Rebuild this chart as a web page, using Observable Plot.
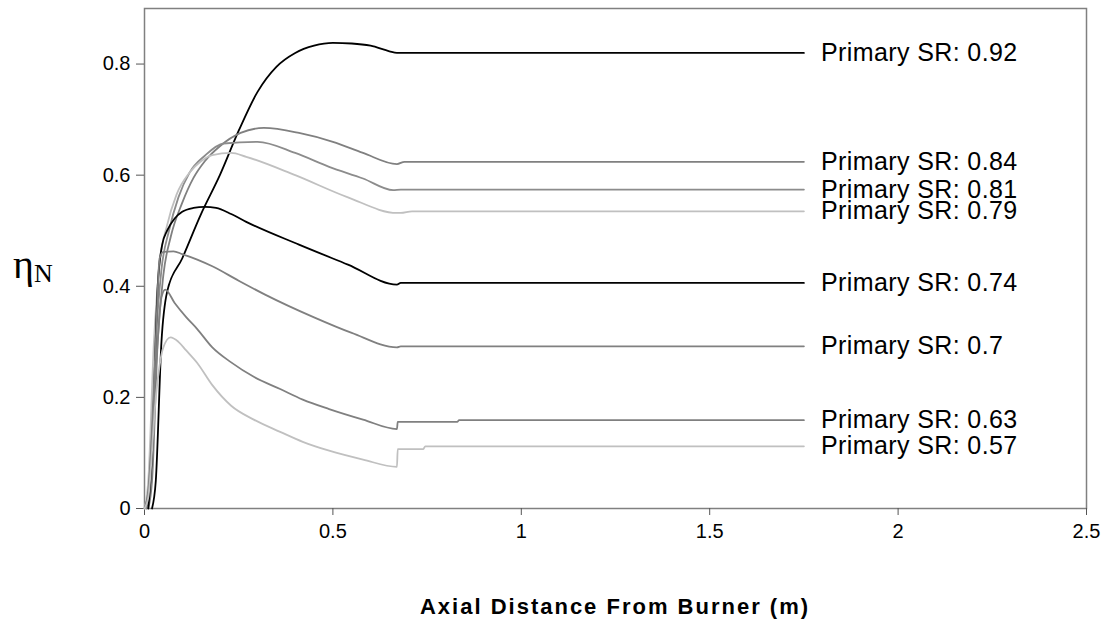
<!DOCTYPE html>
<html>
<head>
<meta charset="utf-8">
<script src="https://cdn.jsdelivr.net/npm/d3@7"></script>
<script src="https://cdn.jsdelivr.net/npm/@observablehq/plot@0.6"></script>
<style>
  html, body { margin: 0; padding: 0; background: #fff; }
  #chart { width: 1114px; height: 629px; }
</style>
</head>
<body>
<div id="chart"></div>
<script>
// ---- data ----
const xTicks = [0, 0.5, 1, 1.5, 2, 2.5];
const yTicks = [0, 0.2, 0.4, 0.6, 0.8];
const srLabels = ["Primary SR: 0.92", "Primary SR: 0.84", "Primary SR: 0.81", "Primary SR: 0.79",
                  "Primary SR: 0.74", "Primary SR: 0.7", "Primary SR: 0.63", "Primary SR: 0.57"];

const x092 = [0.02, 0.03, 0.045, 0.06, 0.1, 0.15, 0.2, 0.25, 0.3, 0.35, 0.4, 0.45, 0.5, 0.55, 0.6, 0.65, 0.67, 1.75];
const y092 = [0, 0.05, 0.30, 0.39, 0.45, 0.53, 0.60, 0.68, 0.75, 0.795, 0.82, 0.833, 0.838, 0.837, 0.833, 0.823, 0.82, 0.82];

const x084 = [0.01, 0.02, 0.035, 0.05, 0.07, 0.1, 0.13, 0.16, 0.2, 0.255, 0.317, 0.41, 0.5, 0.58, 0.67, 0.69, 1.75];
const y084 = [0, 0.05, 0.30, 0.42, 0.49, 0.55, 0.595, 0.625, 0.652, 0.676, 0.685, 0.676, 0.66, 0.64, 0.62, 0.624, 0.624];

const x081 = [0.005, 0.015, 0.03, 0.045, 0.065, 0.09, 0.12, 0.16, 0.21, 0.30, 0.40, 0.49, 0.58, 0.66, 0.68, 1.75];
const y081 = [0, 0.05, 0.30, 0.43, 0.50, 0.56, 0.605, 0.635, 0.657, 0.66, 0.64, 0.615, 0.594, 0.573, 0.574, 0.574];

const x079 = [0, 0.01, 0.025, 0.04, 0.06, 0.085, 0.12, 0.15, 0.18, 0.23, 0.27, 0.40, 0.54, 0.67, 0.68, 0.71, 1.75];
const y079 = [0, 0.05, 0.30, 0.44, 0.51, 0.565, 0.605, 0.625, 0.636, 0.64, 0.633, 0.60, 0.56, 0.532, 0.532, 0.535, 0.535];

const x074 = [0.01, 0.02, 0.035, 0.047, 0.06, 0.08, 0.1, 0.13, 0.16, 0.19, 0.23, 0.27, 0.41, 0.54, 0.67, 0.68, 1.75];
const y074 = [0, 0.10, 0.40, 0.475, 0.50, 0.522, 0.534, 0.541, 0.543, 0.541, 0.53, 0.516, 0.475, 0.439, 0.403, 0.406, 0.406];

const x070 = [0, 0.01, 0.03, 0.04, 0.05, 0.077, 0.1, 0.14, 0.18, 0.25, 0.32, 0.45, 0.55, 0.67, 0.68, 1.75];
const y070 = [0, 0.03, 0.30, 0.45, 0.462, 0.463, 0.458, 0.448, 0.436, 0.41, 0.385, 0.344, 0.316, 0.29, 0.292, 0.292];

const x063 = [0, 0.01, 0.03, 0.045, 0.055, 0.08, 0.11, 0.14, 0.18, 0.23, 0.29, 0.36, 0.42, 0.49, 0.58, 0.67, 0.672, 0.83, 0.835, 1.75];
const y063 = [0, 0.03, 0.25, 0.38, 0.394, 0.37, 0.345, 0.323, 0.29, 0.263, 0.237, 0.215, 0.196, 0.179, 0.16, 0.143, 0.156, 0.156, 0.159, 0.159];

const x057 = [0, 0.01, 0.03, 0.05, 0.069, 0.09, 0.11, 0.14, 0.18, 0.23, 0.29, 0.36, 0.42, 0.49, 0.58, 0.67, 0.672, 0.74, 0.745, 1.75];
const y057 = [0, 0.02, 0.20, 0.29, 0.308, 0.30, 0.285, 0.262, 0.222, 0.185, 0.16, 0.138, 0.12, 0.104, 0.088, 0.075, 0.107, 0.107, 0.112, 0.112];

const seriesX = [x092, x084, x081, x079, x074, x070, x063, x057];
const seriesY = [y092, y084, y081, y079, y074, y070, y063, y057];

// ---- styles ----
const lineColors = ["#000000", "#808080", "#8c8c8c", "#c0c0c0", "#000000", "#808080", "#808080", "#c0c0c0"];

const rows = srLabels.flatMap((sr, k) => seriesX[k].map((x, i) => ({x, y: seriesY[k][i], sr})));
const ends = srLabels.map((sr, k) => ({
  x: seriesX[k][seriesX[k].length - 1],
  y: seriesY[k][seriesY[k].length - 1],
  sr
}));

const W = 1114, H = 629;
const ML = 144, MR = 28;
const fmt = d3.format("~g");
const font = "'Liberation Sans', Arial, sans-serif";

const chart = Plot.plot({
  width: W,
  height: H,
  marginLeft: ML,
  marginRight: MR,
  marginTop: 8,
  marginBottom: 121,
  style: {fontFamily: font, fontSize: "20px", background: "#fff", color: "#000"},
  x: {domain: [0, 2.5], ticks: xTicks, tickFormat: fmt},
  y: {domain: [0, 0.9], ticks: yTicks, tickFormat: fmt},
  color: {domain: srLabels, range: lineColors},
  marks: [
    Plot.frame({stroke: "#808080", strokeWidth: 1.5}),
    Plot.axisX({ticks: xTicks, tickFormat: fmt, tickSize: 7, tickPadding: 8, fontSize: 20, label: null, stroke: "#555"}),
    Plot.axisY({ticks: yTicks, tickFormat: fmt, tickSize: 8, tickPadding: 6, fontSize: 20, label: null, stroke: "#555"}),
    Plot.line(rows, {x: "x", y: "y", z: "sr", stroke: "sr", strokeWidth: 1.8, curve: "monotone-x"}),
    Plot.text(ends, {x: "x", y: "y", text: "sr", textAnchor: "start", dx: 17, fontSize: 25, fill: "#000"})
  ]
});

document.getElementById("chart").appendChild(chart);
d3.select(chart).selectAll("g[aria-label='text'] text").attr("letter-spacing", "0.4px");

// y-axis label (η with subscript N) and x-axis title
const svg = d3.select(chart);
const yl = svg.append("text")
  .attr("x", 13).attr("y", 278)
  .attr("text-anchor", "start")
  .attr("font-family", "'Liberation Serif', 'Times New Roman', serif")
  .attr("font-size", 40).attr("fill", "#000");
yl.append("tspan").text("η");
yl.append("tspan").attr("font-size", 26).attr("dy", 4).text("N");

svg.append("text")
  .attr("x", ML + (W - ML - MR) / 2).attr("y", 614)
  .attr("text-anchor", "middle")
  .attr("font-family", font).attr("font-weight", "bold")
  .attr("font-size", 22).attr("letter-spacing", "2px").attr("fill", "#000")
  .text("Axial Distance From Burner (m)");
</script>
</body>
</html>
